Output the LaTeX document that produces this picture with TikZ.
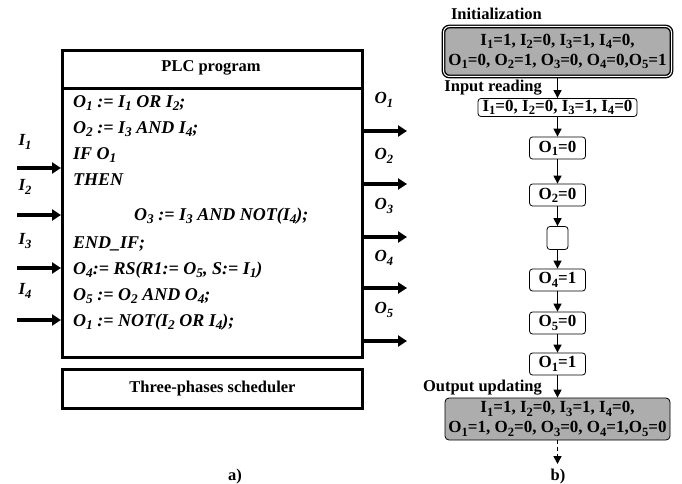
\documentclass[tikz,border=0pt]{standalone}
\usepackage{fontspec}
\usepackage{graphicx}
\setmainfont{Liberation Serif}
\usetikzlibrary{arrows.meta}
\newcommand\sbs[1]{\raisebox{-0.42ex}{\scalebox{0.74}{#1}}}
\tikzset{
  thickbox/.style={draw, line width=3pt, inner sep=0pt},
  ioarrow/.style={line width=3.5pt, -{Triangle[length=9pt,width=11pt]}},
  iolabel/.style={font=\bfseries\itshape\fontsize{17}{19}\selectfont, inner sep=0pt},
  codeline/.style={font=\bfseries\itshape\fontsize{18}{20}\selectfont, anchor=base west, inner sep=0pt},
  title/.style={font=\bfseries\fontsize{16.5}{19}\selectfont, inner sep=0pt},
  state/.style={draw, line width=0.8pt, rounded corners=3pt, fill=white, inner sep=2pt,
     font=\bfseries\fontsize{17}{17}\selectfont, minimum width=56pt, minimum height=22pt},
  bigstate/.style={draw, line width=0.8pt, rounded corners=4pt, fill=black!32, inner sep=1pt,
     align=center, font=\bfseries\fontsize{17}{20}\selectfont, minimum width=225pt},
  flow/.style={line width=1.5pt, -{Triangle[length=8pt,width=8pt]}},
}
\begin{document}
\begin{tikzpicture}[x=1pt,y=-1pt]
\useasboundingbox[fill=white] (0,0) rectangle (682,484);

% ---------- left part ----------
\node[thickbox, minimum width=300pt, minimum height=307pt, anchor=north west] (plc) at (61,49) {};
\draw[line width=3pt] (61,89) -- (361,89);
\node[title] (plctitle) at (211,68) {PLC program};
\node[thickbox, minimum width=300pt, minimum height=39pt, anchor=north west] (sched) at (61,368) {};
\node[title] (schedtitle) at (sched.center) {Three-phases scheduler};

\node[codeline] (c1) at (73,107) {O\sbs{1} := I\sbs{1} OR I\sbs{2};};
\node[codeline] (c2) at (73,133) {O\sbs{2} := I\sbs{3} AND I\sbs{4};};
\node[codeline] (c3) at (73,159) {IF O\sbs{1}};
\node[codeline] (c4) at (73,185) {THEN};
\node[codeline] (c5) at (134,220) {O\sbs{3} := I\sbs{3} AND NOT(I\sbs{4});};
\node[codeline] (c6) at (73,248) {END\_IF;};
\node[codeline] (c7) at (73,274) {O\sbs{4}:= RS(R1:= O\sbs{5}, S:= I\sbs{1})};
\node[codeline] (c8) at (73,300) {O\sbs{5} := O\sbs{2} AND O\sbs{4};};
\node[codeline] (c9) at (73,326) {O\sbs{1} := NOT(I\sbs{2} OR I\sbs{4});};

% inputs
\foreach \n/\ly/\ay in {1/142/168, 2/187/215, 3/241/268, 4/291/320}{
  \node[iolabel] (il\n) at (25,\ly) {I\sbs{\n}};
  \coordinate (is\n) at (17,\ay);
  \draw[ioarrow] (is\n) -- (is\n -| plc.west);
}
% outputs
\foreach \n/\ly/\ay in {1/100/131, 2/156/184, 3/206/237, 4/258/288, 5/310/341}{
  \node[iolabel] (ol\n) at (384,\ly) {O\sbs{\n}};
  \coordinate (oe\n) at (407,\ay);
  \draw[ioarrow] (oe\n -| plc.east) -- (oe\n);
}
\node[title] (la) at (235,477) {a)};

% ---------- right part ----------
\node[bigstate, draw=none, minimum height=51pt] (init) at (557.5,51.5)
  {I\sbs{1}=1, I\sbs{2}=0, I\sbs{3}=1, I\sbs{4}=0,\\O\sbs{1}=0, O\sbs{2}=1, O\sbs{3}=0, O\sbs{4}=0,O\sbs{5}=1};
\draw[line width=1.4pt, double=white, double distance=1pt, rounded corners=6pt]
  (443.5,26.5) rectangle (671.5,76.5);
\node[title, anchor=east] (linit) at (542,14) {Initialization};

\node[state, minimum width=159pt, minimum height=18pt, inner sep=0pt] (inp) at (557.5,107.5)
  {I\sbs{1}=0, I\sbs{2}=0, I\sbs{3}=1, I\sbs{4}=0};
\node[title, anchor=east] (linp) at (542,88) {Input reading};

\node[state] (s1) at (557.5,148) {O\sbs{1}=0};
\node[state] (s2) at (557.5,195) {O\sbs{2}=0};
\node[state, minimum width=21pt, minimum height=23pt] (s3) at (557.5,238) {};
\node[state] (s4) at (557.5,280) {O\sbs{4}=1};
\node[state] (s5) at (557.5,323) {O\sbs{5}=0};
\node[state] (s6) at (557.5,364) {O\sbs{1}=1};

\node[bigstate, minimum width=225pt, minimum height=42pt] (out) at (557.5,419)
  {I\sbs{1}=1, I\sbs{2}=0, I\sbs{3}=1, I\sbs{4}=0,\\O\sbs{1}=1, O\sbs{2}=0, O\sbs{3}=0, O\sbs{4}=1,O\sbs{5}=0};
\node[title, anchor=east] (lout) at (542,388) {Output updating};

\draw[flow] (init.south) -- (inp.north);
\draw[flow] (inp) -- (s1);
\draw[flow] (s1) -- (s2);
\draw[flow] (s2) -- (s3);
\draw[flow] (s3) -- (s4);
\draw[flow] (s4) -- (s5);
\draw[flow] (s5) -- (s6);
\draw[flow] (s6) -- (out);
\coordinate (dend) at (557.5,464);
\draw[flow, dashed, dash pattern=on 4pt off 3pt] (out) -- (dend);
\node[title] (lb) at (558,477) {b)};
\end{tikzpicture}
\end{document}
